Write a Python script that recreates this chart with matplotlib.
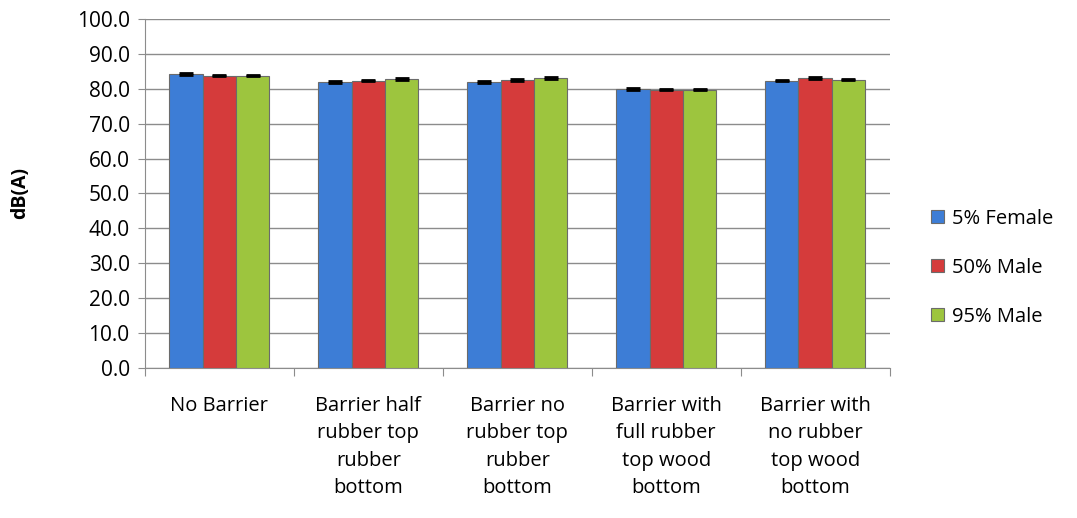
import numpy as np
import matplotlib.pyplot as plt

categories = ["No Barrier", "Barrier half\nrubber top\nrubber\nbottom", "Barrier no\nrubber top\nrubber\nbottom",
              "Barrier with\nfull rubber\ntop wood\nbottom", "Barrier with\nno rubber\ntop wood\nbottom"]
series = ["5% Female", "50% Male", "95% Male"]
female5 = [84.2, 81.9, 82.0, 79.9, 82.3]
male50 = [83.8, 82.3, 82.5, 79.8, 83.1]
male95 = [83.8, 82.8, 83.1, 79.8, 82.6]
errors = [0.2, 0.2, 0.2, 0.2, 0.2]
colors = ["#3D7DD6", "#D53B3B", "#9DC53E"]

plt.rcParams["font.family"] = ["Open Sans", "DejaVu Sans"]
fig = plt.figure(figsize=(10.77, 5.18), dpi=100)
ax = fig.add_axes([0.1346, 0.2896, 0.6914, 0.6737])

x = np.arange(len(categories))
w = 0.224
for i, (vals, c, name) in enumerate(zip([female5, male50, male95], colors, series)):
    pos = x + (i - 1) * w
    ax.bar(pos, vals, w, color=c, edgecolor="#6b6b6b", linewidth=0.8, label=name, zorder=3)
    ax.errorbar(pos, vals, yerr=errors, fmt="none", ecolor="black", elinewidth=1,
                capsize=5, capthick=2, zorder=4)

ax.set_xlim(-0.5, len(categories) - 0.5)
ax.set_ylim(0, 100)
ax.set_yticks(np.arange(0, 101, 10))
ax.set_yticklabels([f"{v:.1f}" for v in np.arange(0, 101, 10)], fontsize=15)
ax.yaxis.grid(True, color="#8c8c8c", linewidth=1, zorder=0)
ax.set_xticks(np.arange(-0.5, len(categories)), minor=False)
ax.set_xticklabels([])
ax.set_xticks(x, minor=True)
ax.set_xticklabels(categories, minor=True, fontsize=14.5, linespacing=1.5, va="top")
ax.tick_params(axis="x", which="minor", length=0, pad=20)
ax.tick_params(axis="x", which="major", length=6, color="#8c8c8c")
ax.tick_params(axis="y", length=5, color="#8c8c8c", pad=6)
for s in ["top", "right"]:
    ax.spines[s].set_visible(False)
for s in ["left", "bottom"]:
    ax.spines[s].set_color("#8c8c8c")
ax.set_ylabel("dB(A)", fontsize=14, fontweight="bold")
ax.yaxis.set_label_coords(-0.154, 0.5)

ax.legend(loc="center left", bbox_to_anchor=(1.056, 0.287), frameon=False, fontsize=14.5,
          borderpad=0, borderaxespad=0, handlelength=0.62, handleheight=0.62,
          labelspacing=1.45, handletextpad=0.4)

fig.savefig("out.png", dpi=100)
